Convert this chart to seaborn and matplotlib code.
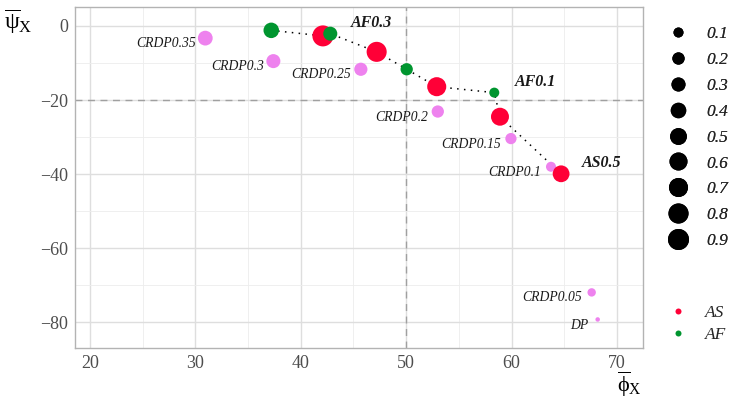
import numpy as np
import pandas as pd
import matplotlib
matplotlib.use("Agg")
import matplotlib.pyplot as plt
from matplotlib.lines import Line2D
import seaborn as sns

# ---- data ----
as_x = [42.1, 47.2, 52.9, 58.9, 64.7]
as_y = [-2.7, -7.0, -16.4, -24.5, -39.9]
as_v = [0.9, 0.8, 0.7, 0.6, 0.5]

af_x = [37.2, 42.8, 50.05, 58.36]
af_y = [-1.2, -2.1, -11.7, -18.0]
af_v = [0.4, 0.3, 0.2, 0.1]

crdp_x = [30.94, 37.4, 45.7, 53.0, 59.94, 63.74, 67.6, 68.17]
crdp_y = [-3.3, -9.5, -11.7, -23.1, -30.4, -38.0, -71.9, -79.2]
crdp_v = [0.35, 0.3, 0.25, 0.2, 0.15, 0.1, 0.05, 0.0]
crdp_labels = ["CRDP0.35", "CRDP0.3", "CRDP0.25", "CRDP0.2", "CRDP0.15",
               "CRDP0.1", "CRDP0.05", "DP"]

bold_labels = {"AF0.3": ("AF", 0.3), "AF0.1": ("AF", 0.1), "AS0.5": ("AS", 0.5)}
size_breaks = [0.1, 0.2, 0.3, 0.4, 0.5, 0.6, 0.7, 0.8, 0.9]
ref_x, ref_y = 50, -20

colors = {"AS": "#FF0037", "AF": "#00952F", "CRDP": "violet"}

df = pd.concat([
    pd.DataFrame({"x": crdp_x, "y": crdp_y, "v": crdp_v, "grp": "CRDP"}),
    pd.DataFrame({"x": as_x, "y": as_y, "v": as_v, "grp": "AS"}),
    pd.DataFrame({"x": af_x, "y": af_y, "v": af_v, "grp": "AF"}),
], ignore_index=True)

DPI = 100
PX2PT = 72.0 / DPI


def diam_px(v):
    return 4.5 + 17.4 * np.sqrt(v)


def s_pt2(v):
    return (diam_px(v) * PX2PT) ** 2


sizes = {v: s_pt2(v) for v in df["v"].unique()}

sns.set_theme(style="whitegrid")
plt.rcParams["font.family"] = ["Liberation Serif", "DejaVu Serif"]
plt.rcParams["mathtext.fontset"] = "custom"
plt.rcParams["mathtext.rm"] = "Liberation Serif"
plt.rcParams["mathtext.it"] = "Liberation Serif:italic"
plt.rcParams["mathtext.bf"] = "Liberation Serif:bold"

fig = plt.figure(figsize=(7.32, 4.01), dpi=DPI)
ax = fig.add_axes([75 / 732, 53 / 401, (643 - 75) / 732, (348 - 7) / 401])

# reference lines
ax.axvline(ref_x, color="#A0A0A0", ls=(0, (5, 4)), lw=1.0, zorder=1)
ax.axhline(ref_y, color="#A0A0A0", ls=(0, (5, 4)), lw=1.0, zorder=1)

# dotted path through AS + AF points sorted by x
path = df[df["grp"].isin(["AS", "AF"])].sort_values("x")
sns.lineplot(data=path, x="x", y="y", sort=False, estimator=None, ax=ax,
             color="black", lw=1.1, linestyle=(0, (1, 3.5)), zorder=2)

for g in ["CRDP", "AS", "AF"]:
    sub = df[df["grp"] == g]
    sns.scatterplot(data=sub, x="x", y="y", size="v", sizes=sizes,
                    color=colors[g], edgecolor="none", linewidth=0,
                    legend=False, ax=ax, zorder=3)

# labels
for x, y, lab in zip(crdp_x, crdp_y, crdp_labels):
    ax.annotate(lab, (x, y), xytext=(-7, -4), textcoords="offset points",
                ha="right", va="center", fontsize=9.8, style="italic",
                color="#1A1A1A")
for lab, (g, v) in bold_labels.items():
    r = df[(df["grp"] == g) & (np.isclose(df["v"], v))].iloc[0]
    ax.annotate(lab, (r["x"], r["y"]), xytext=(15, 8), textcoords="offset points",
                ha="left", va="center", fontsize=11.5, style="italic",
                weight="bold", color="#1A1A1A")

ax.set_xlim(18.58, 72.47)
ax.set_ylim(-86.9, 5.1)
ax.set_xticks([20, 30, 40, 50, 60, 70])
ax.set_yticks([0, -20, -40, -60, -80])
ax.set_xticks([25, 35, 45, 55, 65], minor=True)
ax.set_yticks([-10, -30, -50, -70], minor=True)
ax.set_xticklabels(["20", "30", "40", "50", "60", "70"])
ax.set_yticklabels(["0", "\u221220", "\u221240", "\u221260", "\u221280"])
ax.grid(which="major", color="#DEDEDE", lw=1.0)
ax.grid(which="minor", color="#EDEDED", lw=0.6)
ax.set_axisbelow(True)
for sp in ax.spines.values():
    sp.set_color("#B3B3B3")
    sp.set_linewidth(1.0)
ax.tick_params(axis="both", which="major", length=3, color="#B3B3B3",
               labelsize=13, labelcolor="#4D4D4D", pad=2, width=0.8)
ax.tick_params(axis="both", which="minor", length=0)
ax.set_xlabel("")
ax.set_ylabel("")

fig.text(4 / 732, 1 - 22 / 401, r"$\overline{\mathrm{\psi}}_{\mathrm{X}}$",
         fontsize=17, ha="left", va="center", color="black")
fig.text(617 / 732, 1 - 384 / 401, r"$\overline{\mathrm{\phi}}_{\mathrm{X}}$",
         fontsize=16, ha="left", va="center", color="black")

# size legend
size_handles = [Line2D([], [], ls="", marker="o", color="black", mec="none",
                       markersize=diam_px(v) * PX2PT) for v in size_breaks]
leg1 = fig.legend(size_handles, [str(v) for v in size_breaks],
                  loc="upper left", bbox_to_anchor=(664 / 732, 1 - 26 / 401),
                  frameon=False, prop={"style": "italic", "size": 12.5},
                  labelspacing=0.56, handletextpad=0.85, handlelength=1.6,
                  borderaxespad=0, borderpad=0)

col_handles = [Line2D([], [], ls="", marker="o", color=colors[g], mec="none",
                      markersize=6 * PX2PT) for g in ["AS", "AF"]]
leg2 = fig.legend(col_handles, ["AS", "AF"], loc="upper left",
                  bbox_to_anchor=(664 / 732, 1 - 305 / 401), frameon=False,
                  prop={"style": "italic", "size": 12.5}, labelspacing=0.35,
                  handletextpad=0.75, handlelength=1.6, borderaxespad=0,
                  borderpad=0)
fig.add_artist(leg1)

fig.savefig("out.png", dpi=DPI)
